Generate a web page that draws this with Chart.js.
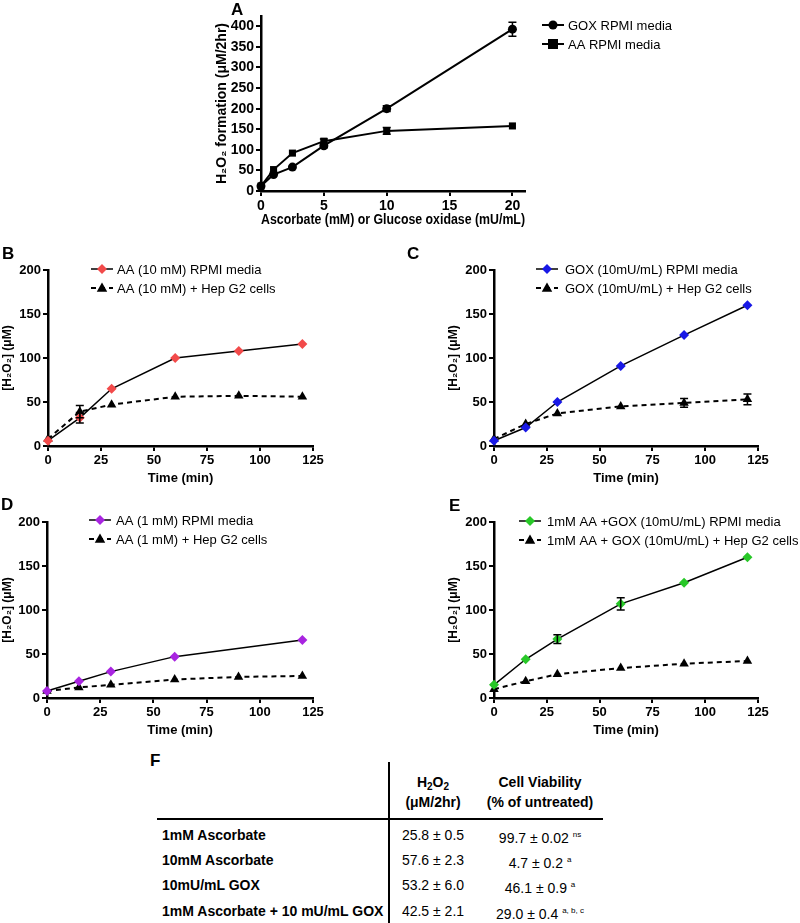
<!DOCTYPE html>
<html>
<head>
<meta charset="utf-8">
<script src="https://cdn.jsdelivr.net/npm/chart.js@4.4.1/dist/chart.umd.min.js"></script>
<style>
  body { margin: 0; background: #fff; font-family: "Liberation Sans", Arial, sans-serif; }
  #page { position: relative; width: 800px; height: 923px; overflow: hidden; }
  canvas { position: absolute; }
  .lbl { position: absolute; font-weight: bold; font-size: 17px; }
  .t { position: absolute; font-size: 14px; white-space: nowrap; line-height: 16px; }
  .b { font-weight: bold; }
  .c { transform: translateX(-50%); text-align: center; }
  sup { font-size: 8px; vertical-align: 6px; }
  sub { font-size: 10px; vertical-align: -3px; }
</style>
</head>
<body>
<div id="page">
  <canvas id="chartA" width="584" height="232" style="left:214px;top:0px"></canvas>
  <canvas id="chartB" width="330" height="234" style="left:0px;top:255px"></canvas>
  <canvas id="chartC" width="354" height="234" style="left:446px;top:255px"></canvas>
  <canvas id="chartD" width="330" height="234" style="left:0px;top:507px"></canvas>
  <canvas id="chartE" width="354" height="234" style="left:446px;top:507px"></canvas>

  <div class="lbl" style="left:231px;top:0px">A</div>
  <div class="lbl" style="left:2px;top:244px">B</div>
  <div class="lbl" style="left:407px;top:244px">C</div>
  <div class="lbl" style="left:1px;top:495px">D</div>
  <div class="lbl" style="left:449px;top:496px">E</div>
  <div class="lbl" style="left:150px;top:751px">F</div>

  <!-- table F -->
  <div style="position:absolute;left:388px;top:762px;width:1.5px;height:161px;background:#000"></div>
  <div style="position:absolute;left:157px;top:818px;width:446px;height:1.5px;background:#000"></div>
  <div class="t b c" style="left:433px;top:774px">H<sub>2</sub>O<sub>2</sub></div>
  <div class="t b c" style="left:433px;top:794px">(μM/2hr)</div>
  <div class="t b c" style="left:540px;top:774px">Cell Viability</div>
  <div class="t b c" style="left:540px;top:794px">(% of untreated)</div>
  <div id="rows"></div>
</div>

<script>
// ---- data ----
const doseA = [0, 1, 2.5, 5, 10, 20];
const goxA = [12, 40, 58, 110, 200, 393];
const goxAErr = [0, 0, 0, 5, 7, 17];
const aaA = [12, 52, 92, 121, 146, 158];
const aaAErr = [0, 0, 0, 5, 8, 0];

const time = [0, 15, 30, 60, 90, 120];
const timeD = [0, 15, 30, 60, 120];

const mediaB = [6, 32, 65, 100, 108, 116];
const mediaBErr = [0, 6, 0, 0, 0, 0];
const cellsB = [8, 39, 47, 56, 57, 56];
const cellsBErr = [0, 7, 0, 0, 0, 0];

const mediaC = [6, 21, 50, 91, 126, 160];
const cellsC = [8, 25, 37, 45, 49, 53];
const cellsCErr = [0, 0, 0, 0, 5, 6];

const mediaD = [8, 19, 30, 47, 66];
const cellsD = [8, 12, 15, 21, 24, 25];

const mediaE = [15, 44, 67, 107, 131, 160];
const mediaEErr = [0, 0, 5, 7, 0, 0];
const cellsE = [10, 19, 27, 34, 39, 42];

const tableLabels = ['1mM Ascorbate', '10mM Ascorbate', '10mU/mL GOX', '1mM Ascorbate + 10 mU/mL GOX'];
const tableH2O2 = ['25.8 ± 0.5', '57.6 ± 2.3', '53.2 ± 6.0', '42.5 ± 2.1'];
const tableViab = ['99.7 ± 0.02', '4.7 ± 0.2', '46.1 ± 0.9', '29.0 ± 0.4'];
const tableSig = ['ns', 'a', 'a', 'a, b, c'];

const FONT = '"Liberation Sans", Arial, sans-serif';

// table rows
const rowY = [827, 852, 877, 903];
let html = '';
tableLabels.forEach((l, i) => {
  html += `<div class="t b" style="left:162px;top:${rowY[i]}px">${l}</div>`;
  html += `<div class="t c" style="left:433px;top:${rowY[i]}px">${tableH2O2[i]}</div>`;
  html += `<div class="t c" style="left:540px;top:${rowY[i]}px">${tableViab[i]} <sup>${tableSig[i]}</sup></div>`;
});
document.getElementById('rows').innerHTML = html;

function pts(xs, ys) {
  return ys.map((y, i) => ({ x: xs[i], y: y }));
}

function drawMarker(ctx, style, x, y, r, fill) {
  ctx.fillStyle = fill;
  ctx.beginPath();
  if (style === 'circle') {
    ctx.arc(x, y, r, 0, Math.PI * 2);
  } else if (style === 'rect') {
    ctx.rect(x - r, y - r, 2 * r, 2 * r);
  } else if (style === 'rectRot') {
    ctx.moveTo(x, y - r); ctx.lineTo(x + r, y); ctx.lineTo(x, y + r); ctx.lineTo(x - r, y);
  } else if (style === 'triangle') {
    ctx.moveTo(x, y - r); ctx.lineTo(x + r * 0.95, y + r * 0.7); ctx.lineTo(x - r * 0.95, y + r * 0.7);
  }
  ctx.closePath();
  ctx.fill();
}

// legend drawn inside the plot like the original
const miniLegend = {
  id: 'miniLegend',
  afterDraw(chart, args, opts) {
    if (!opts || opts.x === undefined) return;
    const ctx = chart.ctx;
    chart.data.datasets.forEach((ds, i) => {
      const x = opts.x, y = opts.y + i * opts.gap;
      ctx.save();
      ctx.strokeStyle = '#000';
      ctx.lineWidth = ds.borderWidth;
      ctx.setLineDash(ds.borderDash || []);
      ctx.beginPath();
      ctx.moveTo(x - 11, y);
      ctx.lineTo(x + 11, y);
      ctx.stroke();
      ctx.setLineDash([]);
      drawMarker(ctx, ds.pointStyle, x, y, ds.pointRadius, ds.pointBackgroundColor);
      ctx.fillStyle = '#000';
      ctx.font = '13px ' + FONT;
      ctx.textBaseline = 'middle';
      ctx.fillText(ds.label, x + opts.off, y + 1);
      ctx.restore();
    });
  }
};

// error bars from each dataset's errors array
const errorBars = {
  id: 'errorBars',
  afterDatasetsDraw(chart) {
    const ctx = chart.ctx;
    const ys = chart.scales.y;
    chart.data.datasets.forEach((ds, di) => {
      if (!ds.errors) return;
      const meta = chart.getDatasetMeta(di);
      meta.data.forEach((p, i) => {
        const e = ds.errors[i];
        if (!e) return;
        const v = ds.data[i].y;
        const top = ys.getPixelForValue(v + e);
        const bot = ys.getPixelForValue(v - e);
        ctx.save();
        ctx.strokeStyle = '#000';
        ctx.lineWidth = 1.5;
        ctx.beginPath();
        ctx.moveTo(p.x, top); ctx.lineTo(p.x, bot);
        ctx.moveTo(p.x - 4, top); ctx.lineTo(p.x + 4, top);
        ctx.moveTo(p.x - 4, bot); ctx.lineTo(p.x + 4, bot);
        ctx.stroke();
        ctx.restore();
      });
    });
  }
};

function axis(o) {
  return {
    type: 'linear',
    min: 0,
    max: o.max,
    ticks: { stepSize: o.step, includeBounds: false, color: '#000', padding: 2, maxRotation: 0,
             font: { family: FONT, size: o.tickSize || 13, weight: 'bold' } },
    grid: { drawOnChartArea: false, color: '#000', lineWidth: 2, tickLength: 5 },
    border: { color: '#000', width: 2.5 },
    title: { display: true, text: o.title, color: '#000', padding: { top: 0, bottom: 3 },
             font: { family: FONT, size: o.titleSize || 13, weight: 'bold' } },
    afterFit(s) { if (o.w) s.width = o.w; if (o.h) s.height = o.h; }
  };
}

function series(label, data, style, r, color, dashed, errors, lw) {
  return {
    label: label,
    data: data,
    showLine: true,
    borderColor: '#000',
    borderWidth: lw || (dashed ? 2 : 1.5),
    borderDash: dashed ? [5, 4] : [],
    pointStyle: style,
    pointRadius: r,
    pointBackgroundColor: color,
    pointBorderColor: color,
    pointBorderWidth: 0,
    clip: false,
    errors: errors
  };
}

function makeChart(id, datasets, o) {
  return new Chart(document.getElementById(id), {
    type: 'scatter',
    data: { datasets: datasets },
    options: {
      responsive: false,
      animation: false,
      layout: { padding: { top: o.top, right: o.right, left: 0, bottom: 0 } },
      plugins: { legend: { display: false }, tooltip: { enabled: false }, miniLegend: o.legend },
      scales: {
        x: axis({ max: o.xMax, step: o.xStep, title: o.xTitle, h: o.xH, tickSize: o.font, titleSize: o.font }),
        y: axis({ max: o.yMax, step: o.yStep, title: o.yTitle, w: o.yW, tickSize: o.font, titleSize: o.yTitleSize || 12 })
      }
    },
    plugins: [errorBars, miniLegend]
  });
}

const H2O2 = '[H₂O₂] (μM)';

makeChart('chartA', [
  series('GOX RPMI media', pts(doseA, goxA), 'circle', 4.5, '#000', false, goxAErr, 2),
  series('AA RPMI media', pts(doseA, aaA), 'rect', 5, '#000', false, aaAErr, 2)
], { top: 16, right: 273, xMax: 21, xStep: 5, yMax: 425, yStep: 50, xH: 41, yW: 47, font: 14, yTitleSize: 14,
     xTitle: 'Ascorbate (mM) or Glucose oxidase (mU/mL)', yTitle: 'H₂O₂ formation (μM/2hr)',
     legend: { x: 339, y: 25, gap: 19, off: 15 } });

makeChart('chartB', [
  series('AA (10 mM) RPMI media', pts(time, mediaB), 'rectRot', 5, '#f24a4a', false, mediaBErr),
  series('AA (10 mM) + Hep G2 cells', pts(time, cellsB), 'triangle', 5.5, '#000', true, cellsBErr)
], { top: 15, right: 17, xMax: 125, xStep: 25, yMax: 200, yStep: 50, xH: 43, yW: 48,
     xTitle: 'Time (min)', yTitle: H2O2, legend: { x: 102, y: 14, gap: 19, off: 15 } });

makeChart('chartC', [
  series('GOX (10mU/mL) RPMI media', pts(time, mediaC), 'rectRot', 5, '#1818e6', false, null),
  series('GOX (10mU/mL) + Hep G2 cells', pts(time, cellsC), 'triangle', 5.5, '#000', true, cellsCErr)
], { top: 15, right: 42, xMax: 125, xStep: 25, yMax: 200, yStep: 50, xH: 43, yW: 48,
     xTitle: 'Time (min)', yTitle: H2O2, legend: { x: 101, y: 14, gap: 19, off: 18 } });

makeChart('chartD', [
  series('AA (1 mM) RPMI media', pts(timeD, mediaD), 'rectRot', 5, '#a824e0', false, null),
  series('AA (1 mM) + Hep G2 cells', pts(time, cellsD), 'triangle', 5.5, '#000', true, null)
], { top: 15, right: 17, xMax: 125, xStep: 25, yMax: 200, yStep: 50, xH: 43, yW: 47,
     xTitle: 'Time (min)', yTitle: H2O2, legend: { x: 100, y: 13, gap: 19, off: 16 } });

makeChart('chartE', [
  series('1mM AA +GOX (10mU/mL) RPMI media', pts(time, mediaE), 'rectRot', 5, '#28c828', false, mediaEErr),
  series('1mM AA + GOX (10mU/mL) + Hep G2 cells', pts(time, cellsE), 'triangle', 5.5, '#000', true, null)
], { top: 15, right: 42, xMax: 125, xStep: 25, yMax: 200, yStep: 50, xH: 43, yW: 48,
     xTitle: 'Time (min)', yTitle: H2O2, legend: { x: 84, y: 14, gap: 19, off: 17 } });
</script>
</body>
</html>
